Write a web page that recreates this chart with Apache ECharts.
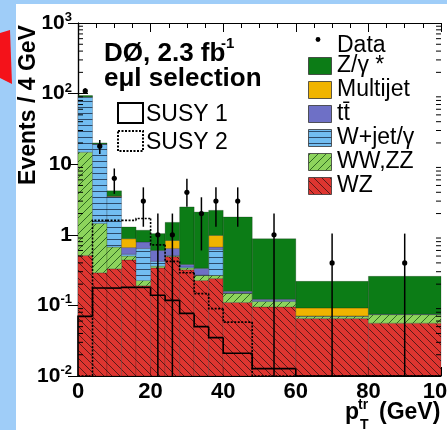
<!DOCTYPE html>
<html><head><meta charset="utf-8">
<script src="https://cdn.jsdelivr.net/npm/echarts@6/dist/echarts.min.js"></script>
<style>html,body{margin:0;padding:0;background:#9fcdf8;}#c{width:447px;height:430px;}</style>
</head><body><div id="c"></div><script>
// ---- data ----
const binEdges = [0,4,8,12,16,20,24,28,32,36,40,48,60,80,100];
const wzVals   = [0.51,0.29,0.33,0.44,0.19,0.34,0.49,0.32,0.225,0.24,0.11,0.095,0.065,0.056];
const wwzzVals = [14.29,1.16,0.34,0.06,0.035,0.02,0.01,0.02,0.04,0.025,0.038,0.019,0.005,0.018];
const wjetVals = [74.2,17.65,2.78,0.03,0.415,0.06,0.01,0.01,0.005,0.355,0.002,0.002,0,0];
const ttVals   = [0.5,0.2,0.05,0.13,0.15,0.18,0.13,0.03,0.065,0.05,0.008,0.006,0.001,0.001];
const mjVals   = [0.3,0.1,0.05,0.22,0,0,0.19,0,0,0.31,0,0,0.021,0];
const zVals    = [4.2,0.6,0.65,0.41,0.37,0.44,0.67,2.10,1.765,1.24,1.632,0.758,0.127,0.183];
const dataX  = [2,6,10,18,22,26,30,34,38,44,54,70,90];
const dataY  = [109,18,6.3,3,1,1,4,2,3,3,1,0.4,0.4];
const dataHi = [119,22,8.7,4.7,2,2,6.2,3.4,4.7,4.7,2,1.04,1.04];
const dataLo = [99,14,3.8,1.3,0,0,2.5,0.6,1.3,1.3,0,0,0];
const susy1 = [0.07,0.176,0.176,0.18,0.18,0.139,0.118,0.077,0.05,0.035,0.021,0.0127,0.005,0.005];
const susy2 = [0.005,1.6,1.6,1.6,1.7,0.72,0.42,0.29,0.147,0.09,0.058,0.005,0.005,0.005];
const xTicks = [0,20,40,60,80,100];

// ---- patterns ----
function hatch(bg, line, size, dir, lw){
  const c=document.createElement('canvas'); c.width=c.height=size;
  const g=c.getContext('2d'); g.fillStyle=bg; g.fillRect(0,0,size,size);
  g.strokeStyle=line; g.lineWidth=lw; g.beginPath();
  if(dir==='/'){ g.moveTo(0,size); g.lineTo(size,0); g.moveTo(-2,2); g.lineTo(2,-2); g.moveTo(size-2,size+2); g.lineTo(size+2,size-2); }
  else if(dir==='\\'){ g.moveTo(0,0); g.lineTo(size,size); g.moveTo(-2,size-2); g.lineTo(2,size+2); g.moveTo(size-2,-2); g.lineTo(size+2,2); }
  else { g.moveTo(0,size-0.5); g.lineTo(size,size-0.5); }
  g.stroke();
  return {image:c, repeat:'repeat'};
}
const fillWZ = hatch('#de3530','#5a1a18',8,'\\',1);
const fillWW = hatch('#8dd45c','#2f6a22',8,'/',1);
const fillWJ = hatch('#72bdf1','#2c4a6a',6,'-',1);
const fillTT = '#6e70c6';
const fillMJ = '#f0b400';
const fillZ  = '#0c7c16';

const comps = [
  {name:'WZ', vals:wzVals, fill:fillWZ},
  {name:'WW,ZZ', vals:wwzzVals, fill:fillWW},
  {name:'W+jet', vals:wjetVals, fill:fillWJ},
  {name:'tt', vals:ttVals, fill:fillTT},
  {name:'Multijet', vals:mjVals, fill:fillMJ},
  {name:'Z', vals:zVals, fill:fillZ}
];
const YMIN=0.01, YMAX=1000;
const clampY = v => Math.min(YMAX, Math.max(YMIN, v));

const series = [];
let cum = binEdges.slice(0,-1).map(()=>0);
comps.forEach(cp=>{
  const data = cp.vals.map((v,i)=>[binEdges[i],binEdges[i+1],cum[i],cum[i]+v]);
  cum = cum.map((c,i)=>c+cp.vals[i]);
  series.push({type:'custom', name:cp.name, z:2, data,
    renderItem:(p,api)=>{
      const x0=api.value(0),x1=api.value(1),b=api.value(2),t=api.value(3);
      if(!(t>b) || t<=YMIN) return null;
      const a=api.coord([x0,clampY(t)]), c=api.coord([x1,clampY(b)]);
      return {type:'rect', shape:{x:a[0],y:a[1],width:c[0]-a[0],height:c[1]-a[1]},
        style:{fill:cp.fill, stroke:'rgba(0,0,0,0.35)', lineWidth:0.6}};
    }});
});

function stepSeries(vals, dash){
  return {type:'custom', z:4, data: vals.map((v,i)=>[binEdges[i],binEdges[i+1],v, i>0?vals[i-1]:YMIN]),
    renderItem:(p,api)=>{
      const x0=api.value(0),x1=api.value(1),v=clampY(api.value(2)),pv=clampY(api.value(3));
      const a=api.coord([x0,pv]), b=api.coord([x0,v]), c=api.coord([x1,v]);
      return {type:'polyline', shape:{points:[a,b,c]}, style:{stroke:'#000', lineWidth:1.6, fill:null, lineDash:dash}};
    }};
}
series.push(stepSeries(susy1, null));
series.push(stepSeries(susy2, [2,1.5]));

series.push({type:'custom', z:6, data: dataX.map((x,i)=>[x,dataY[i],dataLo[i],dataHi[i]]),
  renderItem:(p,api)=>{
    const x=api.value(0),y=api.value(1),lo=clampY(api.value(2)),hi=clampY(api.value(3));
    const pc=api.coord([x,y]), ph=api.coord([x,hi]), pl=api.coord([x,lo]);
    return {type:'group', children:[
      {type:'line', shape:{x1:ph[0],y1:ph[1],x2:pl[0],y2:pl[1]}, style:{stroke:'#000',lineWidth:1.5}},
      {type:'circle', shape:{cx:pc[0],cy:pc[1],r:2.6}, style:{fill:'#000'}}
    ]};
  }});

// minor log ticks (left & right)
const minorVals=[];
for(let e=-2;e<3;e++) for(let m=2;m<10;m++) minorVals.push(m*Math.pow(10,e));
series.push({type:'custom', z:7, data:minorVals.map(v=>[v]), renderItem:(p,api)=>{
  const v=api.value(0); const l=api.coord([0,v]), r=api.coord([100,v]);
  return {type:'group', children:[
    {type:'line', shape:{x1:l[0],y1:l[1],x2:l[0]+5,y2:l[1]}, style:{stroke:'#000',lineWidth:1}},
    {type:'line', shape:{x1:r[0],y1:r[1],x2:r[0]-5,y2:r[1]}, style:{stroke:'#000',lineWidth:1}}
  ]};
}, encode:{x:[],y:0}});

const FF = "'Liberation Sans', Arial, Helvetica, sans-serif";
const axisLineStyle = {show:true, lineStyle:{color:'#000', width:1.2}};
function yLabel(v){
  const e=Math.round(Math.log10(v));
  if(e===0) return '{b|1}';
  if(e===1) return '{b|10}';
  return '{b|10}{s|'+e+'}';
}

const legendRows = [
  {t:'Z/γ *', f:fillZ, y:66},
  {t:'Multijet', f:fillMJ, y:90},
  {t:'tt\u0304', f:fillTT, y:114},
  {t:'W+jet/γ', f:fillWJ, y:138},
  {t:'WW,ZZ', f:fillWW, y:162},
  {t:'WZ', f:fillWZ, y:186}
];
const graphics = [
  {type:'rect', z:-100, shape:{x:16,y:4,width:431,height:426}, style:{fill:'#fff'}},
  {type:'polygon', z:-99, shape:{points:[[0,33],[10,30],[12,84],[0,78]]}, style:{fill:'#f4121a'}},
  {type:'text', z:100, x:29, y:105, rotation:Math.PI/2, style:{text:'Events / 4 GeV', font:"bold 23px "+FF, fill:'#000', align:'center', verticalAlign:'middle'}},
  {type:'text', z:100, x:104, y:54, style:{text:'DØ, 2.3 fb', font:"bold 26px "+FF, fill:'#000', verticalAlign:'middle'}},
  {type:'text', z:100, x:221, y:44, style:{text:'-1', font:"bold 15px "+FF, fill:'#000', verticalAlign:'middle'}},
  {type:'text', z:100, x:104, y:79, style:{text:'eμl selection', font:"bold 26px "+FF, fill:'#000', verticalAlign:'middle'}},
  {type:'rect', z:100, shape:{x:118,y:103,width:25,height:20}, style:{fill:'none', stroke:'#000', lineWidth:2}},
  {type:'text', z:100, x:146, y:115, style:{text:'SUSY 1', font:"23px "+FF, fill:'#000', verticalAlign:'middle'}},
  {type:'rect', z:100, shape:{x:118,y:131,width:25,height:20}, style:{fill:'none', stroke:'#000', lineWidth:2, lineDash:[2,1.5]}},
  {type:'text', z:100, x:146, y:143, style:{text:'SUSY 2', font:"23px "+FF, fill:'#000', verticalAlign:'middle'}},
  {type:'circle', z:100, shape:{cx:318,cy:39.5,r:2.4}, style:{fill:'#000'}},
  {type:'text', z:100, x:337, y:46, style:{text:'Data', font:"23px "+FF, fill:'#000', verticalAlign:'middle'}},
  {type:'text', z:100, x:345, y:413, style:{text:'p', font:"bold 23px "+FF, fill:'#000', verticalAlign:'middle'}},
  {type:'text', z:100, x:358, y:405, style:{text:'tr', font:"bold 14px "+FF, fill:'#000', verticalAlign:'middle'}},
  {type:'text', z:100, x:360, y:425, style:{text:'T', font:"bold 14px "+FF, fill:'#000', verticalAlign:'middle'}},
  {type:'text', z:100, x:379, y:413, style:{text:'(GeV)', font:"bold 23px "+FF, fill:'#000', verticalAlign:'middle'}}
];
legendRows.forEach(r=>{
  graphics.push({type:'rect', z:100, shape:{x:308.5,y:r.y-8.5,width:23,height:17}, style:{fill:r.f, stroke:'#333', lineWidth:0.8}});
  graphics.push({type:'text', z:100, x:337, y:r.y, style:{text:r.t, font:"23px "+FF, fill:'#000', verticalAlign:'middle'}});
});

const option = {
  animation:false,
  backgroundColor:'transparent',
  grid:{left:78, right:6, top:23, bottom:54, outerBoundsMode:'none', containLabel:false},
  xAxis:[
    {type:'value', min:xTicks[0], max:xTicks[xTicks.length-1], interval:20, position:'bottom',
     axisLine:axisLineStyle, splitLine:{show:false},
     axisTick:{inside:true,length:9,lineStyle:{color:'#000',width:1}},
     minorTick:{show:true,splitNumber:4,length:5,lineStyle:{color:'#000',width:1}},
     axisLabel:{margin:5, color:'#000', fontSize:22, fontWeight:'bold', fontFamily:FF, showMaxLabel:true, hideOverlap:false}},
    {type:'value', min:0, max:100, interval:20, position:'top',
     axisLine:axisLineStyle, splitLine:{show:false},
     axisTick:{inside:true,length:9,lineStyle:{color:'#000',width:1}},
     minorTick:{show:true,splitNumber:4,length:5,lineStyle:{color:'#000',width:1}},
     axisLabel:{show:false}}
  ],
  yAxis:[
    {type:'log', logBase:10, min:YMIN, max:YMAX, position:'left',
     axisLine:axisLineStyle, splitLine:{show:false},
     axisTick:{inside:true,length:10,lineStyle:{color:'#000',width:1}},
     axisLabel:{margin:6, formatter:yLabel, rich:{
        b:{fontSize:21,fontWeight:'bold',fontFamily:FF,color:'#000'},
        s:{fontSize:13,fontWeight:'bold',fontFamily:FF,color:'#000',padding:[0,0,11,0]}}}},
    {type:'log', logBase:10, min:YMIN, max:YMAX, position:'right',
     axisLine:axisLineStyle, splitLine:{show:false},
     axisTick:{inside:true,length:10,lineStyle:{color:'#000',width:1}},
     axisLabel:{show:false}}
  ],
  graphic:graphics,
  series:series
};
const chart = echarts.init(document.getElementById('c'), null, {width:447,height:430});
chart.setOption(option);
</script></body></html>
